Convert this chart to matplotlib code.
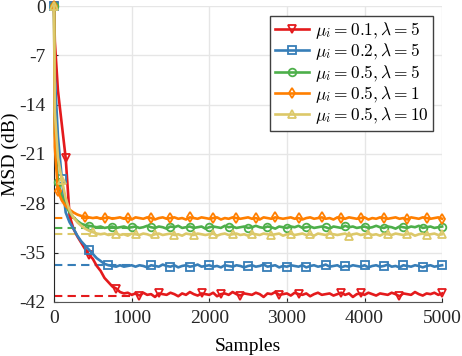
import numpy as np
import matplotlib
matplotlib.use("Agg")
import matplotlib.pyplot as plt

plt.rcParams['font.family'] = ['Liberation Serif', 'DejaVu Serif']
plt.rcParams['mathtext.fontset'] = 'cm'
plt.rcParams['axes.unicode_minus'] = False

# sample positions (0, 10, then every 50 up to 5000)
samples = np.concatenate([[0, 10], np.arange(50, 5001, 50)])

# MSD curves (dB)
msd_red = [0, -5.0, -12.0, -16.8, -21.6, -29.8, -31.6, -32.7, -33.6, -34.5, -35.3, -35.9, -36.9,
           -37.6, -38.6, -39.2, -39.8, -40.1, -40.6, -40.8, -40.7, -41.0,
           -40.8, -41.1, -40.7, -41.0, -40.9, -41.3, -40.8, -40.9, -41.0, -40.7,
           -40.9, -41.2, -40.8, -41.0, -40.6, -40.9, -41.1, -40.8, -40.9, -41.0,
           -40.7, -41.2, -40.9, -40.8, -41.0, -40.6, -40.9, -41.1, -40.8, -40.9,
           -41.0, -40.7, -40.9, -41.3, -40.8, -40.9, -40.6, -41.0, -40.9, -40.8,
           -41.1, -40.7, -40.9, -41.0, -40.8, -41.2, -40.9, -40.7, -41.0, -40.9,
           -40.8, -41.1, -40.9, -40.7, -41.0, -40.8, -41.3, -40.9, -40.8, -41.0,
           -40.7, -40.9, -41.1, -40.8, -40.9, -41.0, -40.7, -40.9, -41.2, -40.8,
           -40.9, -41.0, -40.6, -40.9, -41.1, -40.8, -40.9, -40.7, -41.0, -40.8]
msd_blue = [0, -10.0, -18.5, -24.5, -29.3, -30.7, -31.6, -32.6, -33.4, -34.0, -34.6, -35.2, -35.8,
            -36.2, -36.6, -36.8, -36.9, -37.0, -36.8, -37.0, -36.9, -36.8,
            -37.0, -36.8, -36.9, -37.1, -36.8, -36.9, -37.0, -36.7, -36.9, -37.0,
            -36.8, -37.1, -36.9, -36.8, -37.0, -36.9, -36.7, -37.0, -36.9, -36.8,
            -37.0, -36.9, -37.1, -36.8, -36.9, -37.0, -36.8, -36.9, -37.1, -36.9,
            -36.8, -37.0, -36.9, -36.7, -37.0, -36.9, -36.8, -37.1, -36.9, -37.0,
            -36.8, -36.9, -37.0, -36.8, -37.1, -36.9, -36.8, -37.0, -36.9, -36.7,
            -37.0, -36.9, -36.8, -37.1, -36.9, -37.0, -36.8, -36.9, -37.0, -36.8,
            -37.1, -36.9, -36.8, -37.0, -36.9, -36.7, -37.0, -36.9, -37.1, -36.8,
            -36.9, -37.0, -36.8, -36.9, -37.1, -36.9, -36.8, -37.0, -36.9, -36.8]
msd_green = [0, -18.0, -25.0, -27.0, -28.3, -29.3, -30.0, -30.5, -30.9, -31.1, -31.2, -31.3, -31.4,
             -31.3, -31.5, -31.4, -31.3, -31.5, -31.4, -31.3, -31.5, -31.4,
             -31.3, -31.5, -31.4, -31.2, -31.4, -31.5, -31.3, -31.4, -31.6, -31.3,
             -31.4, -31.2, -31.5, -31.4, -31.3, -31.5, -31.4, -31.3, -31.6, -31.4,
             -31.3, -31.4, -31.5, -31.2, -31.4, -31.3, -31.5, -31.4, -31.3, -31.5,
             -31.4, -31.2, -31.4, -31.5, -31.3, -31.4, -31.6, -31.3, -31.4, -31.5,
             -31.3, -31.4, -31.2, -31.5, -31.4, -31.3, -31.5, -31.4, -31.3, -31.4,
             -31.6, -31.3, -31.4, -31.5, -31.2, -31.4, -31.3, -31.5, -31.4, -31.3,
             -31.5, -31.4, -31.2, -31.4, -31.5, -31.3, -31.4, -31.6, -31.3, -31.4,
             -31.5, -31.3, -31.4, -31.2, -31.5, -31.4, -31.3, -31.5, -31.4, -31.3]
msd_orange = [0, -20.0, -26.3, -27.6, -28.4, -28.9, -29.3, -29.6, -29.8, -29.9, -30.0, -30.1, -30.0,
              -30.2, -30.1, -30.0, -30.2, -30.1, -30.0, -30.2, -30.1, -30.3,
              -30.0, -30.1, -30.2, -30.0, -30.1, -30.3, -30.1, -30.0, -30.2, -30.1,
              -30.0, -30.2, -30.1, -30.3, -30.0, -30.1, -30.2, -30.0, -30.1, -30.2,
              -30.1, -30.0, -30.3, -30.1, -30.2, -30.0, -30.1, -30.2, -30.1, -30.0,
              -30.2, -30.1, -30.3, -30.0, -30.1, -30.2, -30.0, -30.1, -30.2, -30.1,
              -30.0, -30.2, -30.1, -30.3, -30.1, -30.0, -30.2, -30.1, -30.0, -30.2,
              -30.1, -30.3, -30.0, -30.1, -30.2, -30.0, -30.1, -30.2, -30.1, -30.0,
              -30.3, -30.1, -30.2, -30.0, -30.1, -30.2, -30.1, -30.0, -30.2, -30.1,
              -30.3, -30.0, -30.1, -30.2, -30.0, -30.1, -30.2, -30.1, -30.0, -30.2]
msd_yellow = [0, -15.0, -21.5, -24.7, -27.3, -29.0, -30.0, -30.7, -31.2, -31.6, -31.9, -32.1, -32.3,
              -32.4, -32.3, -32.5, -32.4, -32.3, -32.5, -32.4, -32.6, -32.3,
              -32.4, -32.5, -32.3, -32.4, -32.6, -32.4, -32.3, -32.5, -32.4, -32.3,
              -32.5, -32.4, -32.6, -32.3, -32.4, -32.5, -32.3, -32.4, -32.5, -32.4,
              -32.3, -32.6, -32.4, -32.3, -32.5, -32.4, -32.3, -32.5, -32.4, -32.6,
              -32.3, -32.4, -32.5, -32.3, -32.4, -32.5, -32.4, -32.3, -32.6, -32.4,
              -32.3, -32.5, -32.4, -32.3, -32.5, -32.4, -32.6, -32.3, -32.4, -32.5,
              -32.3, -32.4, -32.5, -32.4, -32.3, -32.6, -32.4, -32.3, -32.5, -32.4,
              -32.3, -32.5, -32.4, -32.6, -32.3, -32.4, -32.5, -32.3, -32.4, -32.5,
              -32.4, -32.3, -32.6, -32.4, -32.3, -32.5, -32.4, -32.3, -32.5, -32.4]

# theoretical steady-state MSD (dB), dashed
theory = [-41.2, -36.8, -31.5, -30.1, -32.4]

labels = [r'$\mu_i = 0.1, \lambda = 5$', r'$\mu_i = 0.2, \lambda = 5$',
          r'$\mu_i = 0.5, \lambda = 5$', r'$\mu_i = 0.5, \lambda = 1$',
          r'$\mu_i = 0.5, \lambda = 10$']
colors = ['#e41a1c', '#377eb8', '#4daf4a', '#ff7f00', '#dcc869']
markers = ['v', 's', 'o', 'd', '^']

n = len(samples)
mark_idx = [
    [0, 4, 10, 17, 23, 28, 39, 44, 49, 59, 64, 75, 80, 90, n - 1],
    [0, 3, 10, 15] + list(range(26, n, 5)) + [n - 1],
    [0, 2, 10, 16] + list(range(21, n, 5)) + [n - 1],
    [0, 2] + list(np.round(np.arange(9, n, 5.5)).astype(int)) + [n - 1],
    [0, 3, 11] + list(range(17, n, 5)) + [n - 1],
]

fig, ax = plt.subplots(figsize=(4.62, 3.56), dpi=100)
fig.subplots_adjust(left=0.117, right=0.957, bottom=0.152, top=0.983)

series = [msd_red, msd_blue, msd_green, msd_orange, msd_yellow]
for i, ys in enumerate(series):
    ax.plot([0, 1000], [theory[i], theory[i]], '--', color=colors[i], lw=1.5,
            dashes=(4, 2.5), zorder=2)
for i, ys in enumerate(series):
    ax.plot(samples, ys, color=colors[i], lw=1.9, marker=markers[i], markersize=5.5,
            mfc='none', mew=1.3, markevery=sorted(set(mark_idx[i])),
            label=labels[i], clip_on=False, zorder=3)

ax.set_xlim(0, 5000)
ax.set_ylim(-42, 0)
ax.set_xticks([0, 1000, 2000, 3000, 4000, 5000])
ax.set_yticks([0, -7, -14, -21, -28, -35, -42])
ax.grid(True, color='#e6e6e6', lw=1)
ax.set_axisbelow(True)
for s in ['top', 'right']:
    ax.spines[s].set_visible(False)
ax.spines['left'].set_color('#262626')
ax.spines['bottom'].set_color('#555555')
ax.tick_params(direction='in', length=3, labelsize=14, colors='#262626', pad=6)
ax.set_xlabel('Samples', fontsize=14, labelpad=8)
ax.set_ylabel('MSD (dB)', fontsize=14, labelpad=0)

leg = ax.legend(loc='upper right', fontsize=12.5, fancybox=False, framealpha=1,
                edgecolor='#404040', borderaxespad=0.55, handlelength=2.0,
                labelspacing=0.02, borderpad=0.25, handletextpad=0.3)
leg.get_frame().set_linewidth(1.0)

fig.savefig('out.png', dpi=100)
